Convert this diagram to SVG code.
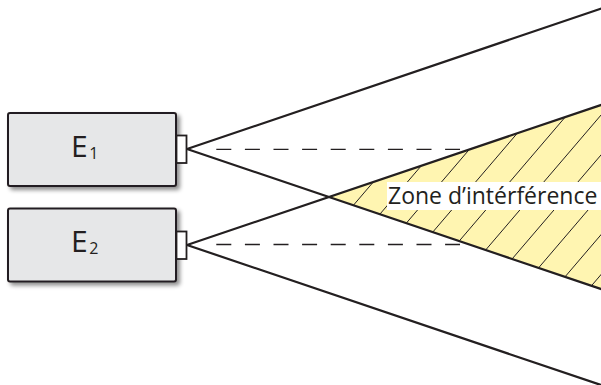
<svg xmlns="http://www.w3.org/2000/svg" width="601" height="385" viewBox="0 0 601 385">
  <style>
    .box { fill: #e6e7e8; stroke: #231f20; stroke-width: 2; }
    .port { fill: #ffffff; stroke: #231f20; stroke-width: 1.8; }
    .ray { stroke: #231f20; stroke-width: 2.2; fill: none; stroke-linecap: round; }
    .dash { stroke: #231f20; stroke-width: 1.3; stroke-dasharray: 15 13.6; fill: none; }
    .hatch { stroke: #231f20; stroke-width: 1; fill: none; }
    .lbl { font-family: "Open Sans", "Liberation Sans", sans-serif; fill: #231f20; }
  </style>
  <defs>
    <filter id="sh" x="-10%" y="-10%" width="130%" height="140%">
      <feDropShadow dx="3" dy="3" stdDeviation="2" flood-color="#000" flood-opacity="0.45"/>
    </filter>
    <clipPath id="tri">
      <polygon points="329,197 601,105 601,289"/>
    </clipPath>
  </defs>

  <g id="zone">
    <polygon points="329,197 601,105 601,289" fill="#fff5b1"/>
    <path class="hatch" clip-path="url(#tri)" d="M443.4,100 L272.4,300 M477.5,100 L306.5,300 M511.6,100 L340.6,300 M545.7,100 L374.7,300 M579.8,100 L408.8,300 M613.9,100 L442.9,300 M648,100 L477,300 M682.1,100 L511.1,300 M716.2,100 L545.2,300 M750.3,100 L579.3,300"/>
    <rect x="387" y="182" width="214" height="28" fill="#ffffff"/>
    <text class="lbl" x="388" y="204" font-size="23">Zone d’intérférence</text>
  </g>

  <g id="connectors">
    <line class="dash" x1="216.3" y1="149.3" x2="460" y2="149.3"/>
    <line class="dash" x1="216.3" y1="244.5" x2="460" y2="244.5"/>
    <line class="ray" x1="187" y1="149" x2="603" y2="8"/>
    <line class="ray" x1="187" y1="149" x2="603" y2="289.7"/>
    <line class="ray" x1="187" y1="245" x2="603" y2="104.3"/>
    <line class="ray" x1="187" y1="245" x2="603" y2="385.7"/>
  </g>

  <g id="E1">
    <rect class="box" x="8" y="113" width="168" height="73" rx="2" filter="url(#sh)"/>
    <rect class="port" x="176.5" y="135.5" width="10" height="27.5"/>
    <text class="lbl" x="71" y="157" font-size="30">E<tspan font-size="16" dx="1.5" dy="2">1</tspan></text>
  </g>

  <g id="E2">
    <rect class="box" x="8" y="208.5" width="168" height="73" rx="2" filter="url(#sh)"/>
    <rect class="port" x="176.5" y="231.5" width="10" height="27.5"/>
    <text class="lbl" x="71" y="252" font-size="30">E<tspan font-size="16" dx="1.5" dy="2">2</tspan></text>
  </g>
</svg>
